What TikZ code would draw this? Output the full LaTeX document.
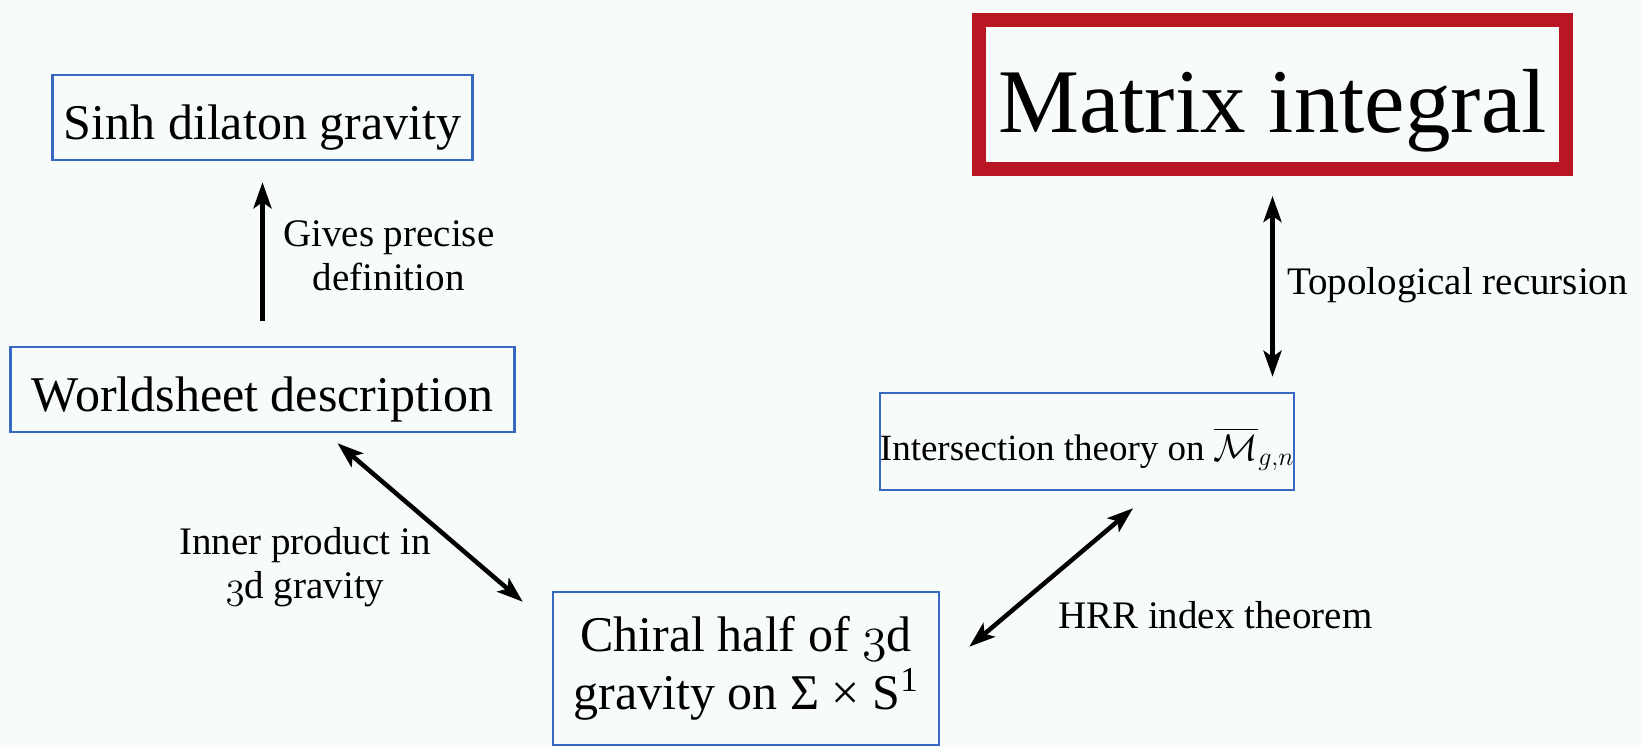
\RequirePackage{fix-cm}
\documentclass[tikz,border=0pt]{standalone}
\usepackage{amsmath,amssymb}
\usepackage{fontspec}
\setmainfont{Liberation Serif}
\usetikzlibrary{arrows.meta,positioning,calc}
\definecolor{pageWhite}{RGB}{247,251,249}
\definecolor{boxBlue}{RGB}{55,105,195}
\definecolor{stampRed}{RGB}{185,22,35}
\newcommand{\oldthree}{{\usefont{OML}{cmm}{m}{it}3}}

\begin{document}
\begin{tikzpicture}[x=1pt,y=-1pt,
    conceptbox/.style={draw=boxBlue, line width=2.5pt, inner sep=0pt, align=center},
    stampbox/.style={draw=stampRed, line width=14pt, inner sep=0pt},
    arrowlbl/.style={inner sep=0pt, align=center, font=\fontsize{39}{44}\selectfont},
    linkarrow/.style={line width=4.5pt, -{Stealth[length=26pt,width=18pt,inset=6pt]}},
    twoway/.style={line width=4.5pt, {Stealth[length=26pt,width=18pt,inset=6pt]}-{Stealth[length=26pt,width=18pt,inset=6pt]}}]
  \fill[pageWhite] (0,0) rectangle (1641,747);
  \useasboundingbox (0,0) rectangle (1641,747);

  % Left column
  \node[conceptbox, minimum width=420pt, text height=64pt, text depth=21pt,
    font=\fontsize{50}{60}\selectfont] (sinh) at (262.5,117.5) {Sinh dilaton gravity};
  \node[conceptbox, minimum width=504pt, text height=64pt, text depth=21pt,
    font=\fontsize{50}{60}\selectfont] (wsd) at (262.5,389.5) {Worldsheet description};
  % Bottom
  \node[conceptbox, minimum width=386pt, minimum height=153pt,
    font=\fontsize{50}{58}\selectfont] (chiral) at (746,668.5)
    {Chiral half of \oldthree d\\gravity on Σ × S$^{\text{1}}$};
  % Right column
  \node[stampbox, minimum width=587pt, text height=112pt, text depth=37pt,
    font=\fontsize{91}{100}\selectfont] (matrix) at (1272.5,94.5) {Matrix integral};
  \node[conceptbox, minimum width=406pt, text height=67pt, text depth=30pt,
    font=\fontsize{37}{44}\selectfont] (inter) at (1087,441.5)
    {Intersection theory on $\overline{\mathcal{M}}_{g,n}$};

  % Connectors
  \draw[linkarrow] ([yshift=25pt]sinh.south |- wsd.north) -- ([yshift=-21pt]sinh.south);
  \draw[twoway] ([xshift=75pt,yshift=-10pt]wsd.south)
    -- ([xshift=-29pt,yshift=-11pt]chiral.north west);
  \draw[twoway] ([xshift=46pt,yshift=-17pt]inter.south)
    -- ([xshift=29pt,yshift=-56pt]chiral.north east);
  \coordinate (trfoot) at (matrix.south |- inter.north);
  \draw[twoway] ([yshift=-20pt]matrix.south) -- ([yshift=15pt]trfoot);

  % Labels
  \node[arrowlbl, anchor=west] (lblgives) at (283,256) {Gives precise\\definition};
  \node[arrowlbl] (lblinner) at (305,567) {Inner product in\\\oldthree d gravity};
  \node[arrowlbl, anchor=west] (lbltopo) at (1287,285) {Topological recursion};
  \node[arrowlbl, anchor=west] (lblhrr) at (1058,615) {HRR index theorem};
\end{tikzpicture}
\end{document}
